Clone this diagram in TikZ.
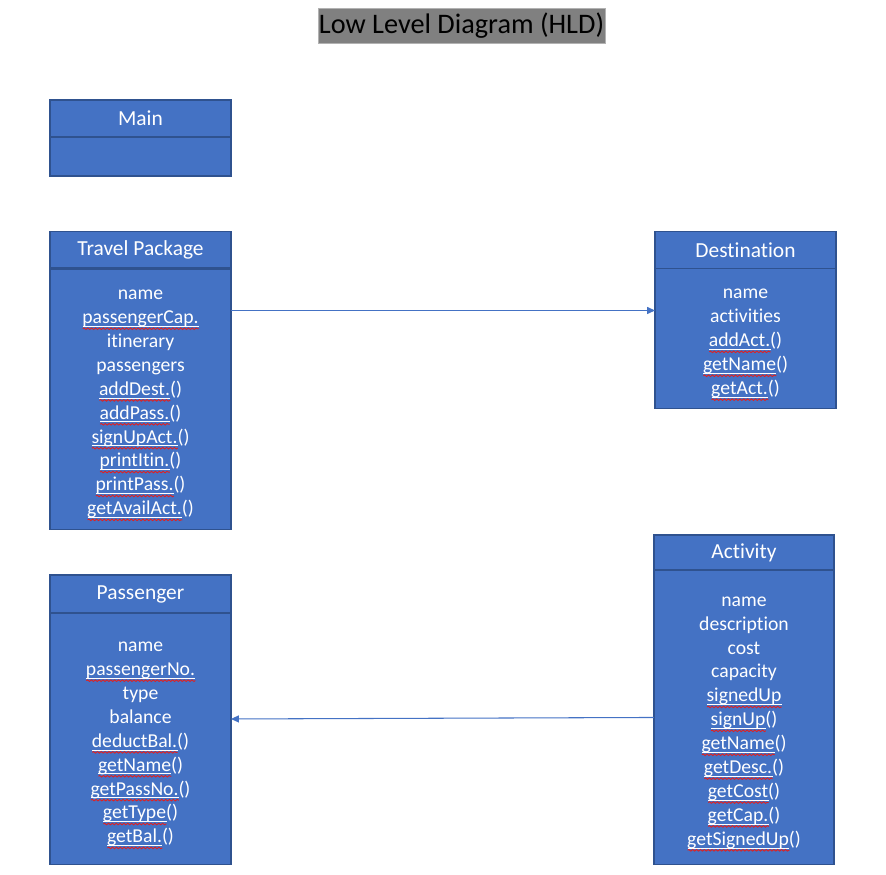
\documentclass[tikz,border=0pt]{standalone}
\usepackage{fontspec}
\setmainfont{Carlito}[Ligatures=NoCommon]
\usetikzlibrary{positioning,arrows.meta,decorations.pathmorphing}
\definecolor{boxblue}{HTML}{4472C4}
\definecolor{boxline}{HTML}{2F528F}
\definecolor{titlegray}{HTML}{808080}
\definecolor{spellred}{HTML}{E02020}
\newsavebox\sqbox
\newcommand\sq[1]{\sbox\sqbox{#1}\rlap{\smash{\tikz[baseline=0pt]{\draw[white,line width=0.4pt] (0,-1.5pt) -- (\wd\sqbox,-1.5pt); \draw[spellred,line width=0.5pt,decorate,decoration={snake,amplitude=0.45pt,segment length=2.2pt}] (0,-2.9pt) -- (\wd\sqbox,-2.9pt);}}}\usebox\sqbox}
\newcommand\topgap{\rule{0pt}{13.5pt}}

\begin{document}
\begin{tikzpicture}[x=0.02cm,y=-0.02cm,
		head/.style={draw=boxline,fill=boxblue,text=white,line width=0.6pt,minimum width=3.62cm,minimum height=0.74cm,inner sep=0pt,outer sep=0pt,font=\fontsize{12.2}{14}\selectfont},
		body/.style={head,below=0pt of #1,align=center,font=\fontsize{11.2}{13.6}\selectfont},
		link/.style={draw=boxblue,line width=0.6pt,-{Triangle[length=4.5pt,width=4pt]}}]
	\useasboundingbox (0,0) rectangle (886,875);
	\node [draw=gray!60,fill=titlegray,minimum width=5.74cm,minimum height=0.7cm,inner sep=0pt,font=\fontsize{16.1}{18}\selectfont] (title) at (461.5,25.5) {Low Level Diagram (HLD)};
	\node [head] (main) at (140.5,118.5) {Main};
	\node [body=main,minimum height=0.78cm] (mainb) {};
	\node [head] (tp) at (140.5,250) {Travel Package};
	\node [body=tp,minimum height=5.22cm] (tpb) {\topgap name\\ \sq{passengerCap.}\\ itinerary\\ passengers\\ \sq{addDest.}()\\ \sq{addPass.}()\\ \sq{signUpAct.}()\\ \sq{printItin.}()\\ \sq{printPass.}()\\ \sq{getAvailAct.}()\strut};
	\draw [boxline,line width=1.3pt] (tp.south west) -- (tp.south east);
	\node [head] (dst) at (745.5,250) {Destination};
	\node [body=dst,minimum height=2.8cm] (dstb) {\topgap name\\ activities\\ \sq{addAct.}()\\ \sq{getName}()\\ \sq{getAct.}()\strut};
	\node [head,minimum width=3.6cm,minimum height=0.7cm] (act) at (744,552.5) {Activity};
	\node [body=act,minimum width=3.6cm,minimum height=5.9cm] (actb) {\topgap name\\ description\\ cost\\ capacity\\ \sq{signedUp}\\ \sq{signUp}()\\ \sq{getName}()\\ \sq{getDesc.}()\\ \sq{getCost}()\\ \sq{getCap.}()\\ \sq{getSignedUp}()\strut};
	\node [head,minimum height=0.76cm] (ps) at (140.5,594) {Passenger};
	\node [body=ps,minimum height=5.04cm] (psb) {\topgap name\\ \sq{passengerNo.}\\ type\\ balance\\ \sq{deductBal.}()\\ \sq{getName}()\\ \sq{getPassNo.}()\\ \sq{getType}()\\ \sq{getBal.}()\strut};
	\draw [link] ([yshift=-0.84cm]tpb.north east) -- ([yshift=-0.84cm]dstb.north west);
	\draw [link] (actb.west) -- ([yshift=0.4cm]psb.east);
\end{tikzpicture}
\end{document}
